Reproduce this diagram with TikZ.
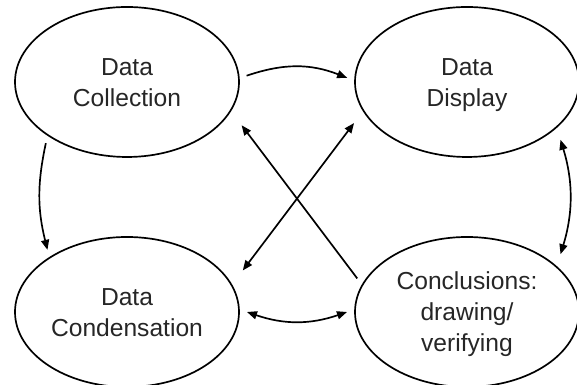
\documentclass[tikz,border=0pt]{standalone}
\usepackage{fontspec}
\setmainfont{Liberation Sans}
\usepackage{tikz}
\usetikzlibrary{shapes.geometric, arrows.meta, positioning}
\newcommand{\vfix}{\rule[-4.4pt]{0pt}{21.4pt}}

\begin{document}
\begin{tikzpicture}[
        stage/.style={draw=black, ellipse, line width=1.2pt,
                      minimum width=5.6cm, minimum height=3.75cm,
                      inner sep=0pt, outer sep=0.2cm, align=center,
                      font=\fontsize{17.5}{22}\selectfont, text=black!85},
        arr/.style={-{Triangle[length=0.25cm,width=0.2cm]}, line width=1.2pt},
        dbl/.style={{Triangle[length=0.25cm,width=0.2cm]}-{Triangle[length=0.25cm,width=0.2cm]},
                    line width=1.2pt}
      ]
        \useasboundingbox (0,0) rectangle (14.425,9.625);

        \node[stage] (coll) at (3.175,7.575) {\vfix Data\\Collection\vfix};
        \node[stage] (disp) at (11.675,7.575) {\vfix Data\\Display\vfix};
        \node[stage] (cond) at (3.175,1.825) {\vfix Data\\Condensation\vfix};
        \node[stage] (concl) at (11.675,1.825) {\vfix Conclusions:\\drawing/\\verifying\vfix};

        \draw[arr] (coll.3) to[bend left=20] (disp.178);
        \draw[arr] (coll.217) to[bend right=13] (cond.142);
        \draw[dbl, shorten <=0.12cm, shorten >=0.12cm] (disp.-30) to[bend left=17] (concl.30);
        \draw[dbl] (cond.0) to[bend right=19] (concl.180);

        \draw[arr, shorten >=0.25cm] (concl.163) -- (coll.-18);
        \draw[dbl, shorten <=0.18cm, shorten >=0.25cm] (disp.198) -- (cond.17);
      \end{tikzpicture}
\end{document}
